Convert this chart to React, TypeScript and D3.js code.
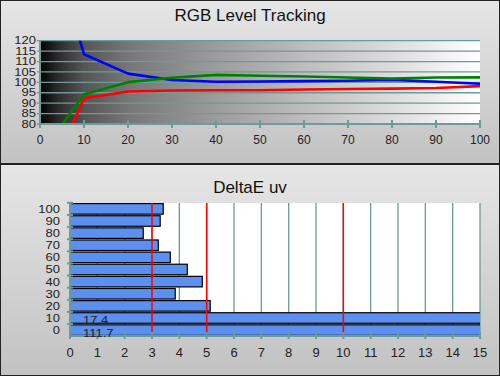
import React from "react";
import * as d3 from "d3";

const levels = [0, 10, 20, 30, 40, 50, 60, 70, 80, 90, 100];
const redLevels = [45, 92.3, 95.6, 96.1, 96.2, 96.2, 96.6, 96.8, 97.0, 97.3, 98.2];
const greenLevels = [65, 94.3, 100.1, 102.2, 103.6, 103.2, 102.8, 102.3, 101.8, 102.3, 102.4];
const blueLevels = [185, 113.5, 104.2, 101.1, 100.3, 100.4, 100.6, 100.8, 101.2, 100.3, 99.3];
const yTicksTop = [80, 85, 90, 95, 100, 105, 110, 115, 120];
const xTicksTop = [0, 10, 20, 30, 40, 50, 60, 70, 80, 90, 100];

const deltaCats = ["100", "90", "80", "70", "60", "50", "40", "30", "20", "10", "0"];
const deltaVals = [3.41, 3.3, 2.68, 3.23, 3.67, 4.29, 4.84, 3.85, 5.13, 17.4, 111.7];
const refLines = [3, 5, 10];
const xTicksBottom = d3.range(0, 16);

const GRID = "#6b9c97";

export default function App() {
  const W = 500, H = 376;
  const xT = d3.scaleLinear().domain([0, 100]).range([40, 480]);
  const yT = d3.scaleLinear().domain([80, 120]).range([124, 40.7]);
  const line = d3.line<number>().x((_, i) => xT(levels[i])).y((d) => yT(d));

  const xB = d3.scaleLinear().domain([0, 15]).range([70, 480]);
  const yB = d3.scaleBand<string>().domain(deltaCats).range([203, 336]).paddingInner(0.13).paddingOuter(0.05);
  const step = yB.step();

  const series = [
    { v: redLevels, c: "#ff0000" },
    { v: blueLevels, c: "#0000ff" },
    { v: greenLevels, c: "#008000" },
  ];

  return (
    <svg width={W} height={H} style={{ position: "absolute", left: 0, top: 0 }} fontFamily="'Liberation Sans', Arial, sans-serif">
      <defs>
        <linearGradient id="panel" x1="0" y1="0" x2="0" y2="1">
          <stop offset="0" stopColor="#e6e6e6" />
          <stop offset="1" stopColor="#c2c2c2" />
        </linearGradient>
        <linearGradient id="ramp" x1="0" y1="0" x2="1" y2="0">
          <stop offset="0" stopColor="#000000" />
          <stop offset="0.04" stopColor="#2a2a2a" />
          <stop offset="0.1" stopColor="#555555" />
          <stop offset="0.2" stopColor="#767676" />
          <stop offset="0.4" stopColor="#9c9c9c" />
          <stop offset="0.6" stopColor="#bdbdbd" />
          <stop offset="0.8" stopColor="#dcdcdc" />
          <stop offset="1" stopColor="#ffffff" />
        </linearGradient>
        <clipPath id="clipTop">
          <rect x={xT(0)} y={yT(120)} width={xT(100) - xT(0)} height={yT(80) - yT(120)} />
        </clipPath>
        <clipPath id="clipBottom">
          <rect x={xB(0)} y={203} width={xB(15) - xB(0)} height={133} />
        </clipPath>
      </defs>

      {/* panels */}
      <rect x={0.5} y={0.5} width={W - 1} height={163} fill="url(#panel)" stroke="#222" />
      <rect x={0.5} y={164.5} width={W - 1} height={H - 165} fill="url(#panel)" stroke="#222" />

      {/* TOP CHART */}
      <text x={250} y={21} textAnchor="middle" fontSize={17} fill="#111">RGB Level Tracking</text>
      <rect x={xT(0)} y={yT(120)} width={xT(100) - xT(0)} height={yT(80) - yT(120)} fill="url(#ramp)" />
      {yTicksTop.map((t) => (
        <g key={t}>
          <line x1={xT(0) - 3} x2={xT(100)} y1={yT(t)} y2={yT(t)} stroke={GRID} strokeWidth={1.3} />
          <g transform={`translate(36,${yT(t)}) scale(1,0.78)`}>
            <text x={0} y={0} dy="0.36em" textAnchor="end" fontSize={13} fill="#222">{t}</text>
          </g>
        </g>
      ))}
      <line x1={xT(0)} x2={xT(0)} y1={yT(120)} y2={yT(80)} stroke={GRID} strokeWidth={2} />
      <g clipPath="url(#clipTop)">
        {series.map((s, i) => (
          <path key={i} d={line(s.v) || ""} fill="none" stroke={s.c} strokeWidth={2.6} strokeLinejoin="round" />
        ))}
      </g>
      <line x1={xT(0)} x2={xT(100)} y1={yT(80)} y2={yT(80)} stroke={GRID} strokeWidth={2} />
      {xTicksTop.map((t) => (
        <g key={t}>
          <line x1={xT(t)} x2={xT(t)} y1={yT(80) - 4} y2={yT(80) + 4} stroke={GRID} strokeWidth={2} />
          <text x={xT(t)} y={140} dy="0.36em" textAnchor="middle" fontSize={12} fill="#222">{t}</text>
        </g>
      ))}

      {/* BOTTOM CHART */}
      <text x={250} y={193} textAnchor="middle" fontSize={17} fill="#111">DeltaE uv</text>
      <rect x={xB(0)} y={203} width={xB(15) - xB(0)} height={133} fill="#ffffff" />
      {xTicksBottom.map((t) => (
        <line key={t} x1={xB(t)} x2={xB(t)} y1={203} y2={336} stroke={GRID} strokeWidth={1.3} />
      ))}
      <g clipPath="url(#clipBottom)">
        {deltaCats.map((c, i) => (
          <rect key={c} x={xB(0)} y={yB(c)!} width={Math.min(xB(deltaVals[i]), xB(15) + 2) - xB(0)} height={yB.bandwidth()}
            fill="#5b8ff0" stroke="#000" strokeWidth={1.2} />
        ))}
      </g>
      {refLines.map((r) => (
        <line key={r} x1={xB(r)} x2={xB(r)} y1={203} y2={336} stroke="#ff0000" strokeWidth={1.5} />
      ))}
      <line x1={xB(0)} x2={xB(0)} y1={203} y2={336} stroke={GRID} strokeWidth={2} />
      {deltaCats.map((c) => (
        <g key={c}>
          <line x1={xB(0) - 3} x2={xB(0) + 3} y1={yB(c)! - (step - yB.bandwidth()) / 2} y2={yB(c)! - (step - yB.bandwidth()) / 2} stroke={GRID} strokeWidth={2} />
          <g transform={`translate(60,${yB(c)! + yB.bandwidth() / 2}) scale(1,0.85)`}>
            <text x={0} y={0} dy="0.36em" textAnchor="end" fontSize={13} fill="#222">{c}</text>
          </g>
        </g>
      ))}
      <line x1={xB(0)} x2={xB(15)} y1={336} y2={336} stroke={GRID} strokeWidth={2} />
      {xTicksBottom.map((t) => (
        <g key={t}>
          <line x1={xB(t)} x2={xB(t)} y1={332} y2={339} stroke={GRID} strokeWidth={2} />
          <text x={xB(t)} y={352} dy="0.36em" textAnchor="middle" fontSize={13} fill="#222">{t}</text>
        </g>
      ))}
      {deltaCats.map((c, i) =>
        deltaVals[i] > 15 ? (
          <g key={c} transform={`translate(83,${yB(c)! + yB.bandwidth() / 2 + 2.5}) scale(1,0.85)`}>
            <text x={0} y={0} dy="0.36em" fontSize={13} fill="#222">{deltaVals[i]}</text>
          </g>
        ) : null
      )}
    </svg>
  );
}
